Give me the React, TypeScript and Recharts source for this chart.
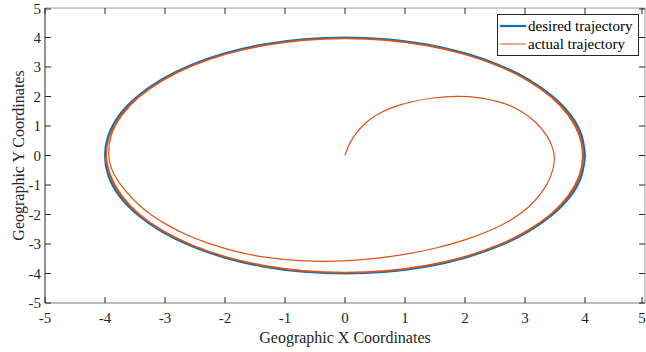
import React from 'react';
import { LineChart, Line, XAxis, YAxis, Legend, ReferenceLine } from 'recharts';

// axis ticks (both axes run -5..5)
const xTicks = [-5, -4, -3, -2, -1, 0, 1, 2, 3, 4, 5];
const yTicks = [-5, -4, -3, -2, -1, 0, 1, 2, 3, 4, 5];

// desired trajectory: the reference circle, read every 10 degrees
const desiredPath: [number, number][] = [
  [4, 0], [3.94, 0.69], [3.76, 1.37], [3.46, 2], [3.06, 2.57], [2.57, 3.06], [2, 3.46], [1.37, 3.76], [0.69, 3.94],
  [0, 4], [-0.69, 3.94], [-1.37, 3.76], [-2, 3.46], [-2.57, 3.06], [-3.06, 2.57], [-3.46, 2], [-3.76, 1.37], [-3.94, 0.69],
  [-4, 0], [-3.94, -0.69], [-3.76, -1.37], [-3.46, -2], [-3.06, -2.57], [-2.57, -3.06], [-2, -3.46], [-1.37, -3.76], [-0.69, -3.94],
  [0, -4], [0.69, -3.94], [1.37, -3.76], [2, -3.46], [2.57, -3.06], [3.06, -2.57], [3.46, -2], [3.76, -1.37], [3.94, -0.69],
  [4, 0],
];

// actual trajectory: spiral out of the origin ...
const actualSpiral: [number, number][] = [
  [0, 0], [0.05, 0.3], [0.11, 0.53], [0.19, 0.77], [0.3, 1.03], [0.44, 1.27], [0.6, 1.47], [0.82, 1.66], [1.1, 1.83],
  [1.47, 1.96], [1.86, 2.02], [2.25, 1.97], [2.6, 1.82], [2.92, 1.55], [3.19, 1.14], [3.38, 0.66], [3.48, 0.2],
  [3.5, -0.2], [3.44, -0.72], [3.29, -1.25], [3.08, -1.74], [2.8, -2.16], [2.46, -2.52], [2.02, -2.86], [1.52, -3.15],
  [1.0, -3.36], [0.42, -3.52], [-0.15, -3.6], [-0.75, -3.58], [-1.35, -3.46], [-1.85, -3.25], [-2.28, -2.98],
  [-2.64, -2.7], [-2.95, -2.38], [-3.22, -2.04], [-3.45, -1.66], [-3.65, -1.24], [-3.81, -0.8], [-3.91, -0.4], [-3.95, 0],
];

// ... then two laps that settle onto the circle
const actualLap1: [number, number][] = [
  [-3.92, 0.69], [-3.74, 1.36], [-3.45, 1.99], [-3.05, 2.56], [-2.56, 3.05], [-1.99, 3.45], [-1.36, 3.74], [-0.69, 3.92],
  [0, 3.98], [0.69, 3.92], [1.36, 3.74], [1.99, 3.45], [2.56, 3.05], [3.05, 2.56], [3.45, 1.99], [3.74, 1.36], [3.92, 0.69],
  [3.98, 0], [3.92, -0.69], [3.74, -1.36], [3.45, -1.99], [3.05, -2.56], [2.56, -3.05], [1.99, -3.45], [1.36, -3.74], [0.69, -3.92],
  [0, -3.98], [-0.69, -3.92], [-1.36, -3.74], [-1.99, -3.45], [-2.56, -3.05], [-3.05, -2.56], [-3.45, -1.99], [-3.74, -1.36], [-3.92, -0.69],
  [-4, 0],
];

const actualLap2: [number, number][] = [
  [-3.94, 0.69], [-3.76, 1.37], [-3.46, 2], [-3.06, 2.57], [-2.57, 3.06], [-2, 3.46], [-1.37, 3.76], [-0.69, 3.94],
  [0, 4], [0.69, 3.94], [1.37, 3.76], [2, 3.46], [2.57, 3.06], [3.06, 2.57], [3.46, 2], [3.76, 1.37], [3.94, 0.69],
  [4, 0], [3.94, -0.69], [3.76, -1.37], [3.46, -2], [3.06, -2.57], [2.57, -3.06], [2, -3.46], [1.37, -3.76], [0.69, -3.94],
  [0, -4], [-0.69, -3.94], [-1.37, -3.76], [-2, -3.46], [-2.57, -3.06], [-3.06, -2.57], [-3.46, -2], [-3.76, -1.37], [-3.94, -0.69],
  [-4, 0],
];

const BLUE = '#0072BD';
const ORANGE = '#D95319';
const TEXT = '#262626';
const FONT = '"Liberation Serif", "Times New Roman", serif';

// plot frame in pixels (chart margins + axis sizes below put it here)
const FRAME = { left: 45, top: 8, right: 645, bottom: 303 };
const TICK_LEN = 6;

const toRows = (pts: [number, number][]) => pts.map(([x, y]) => ({ x, y }));
const desiredData = toRows(desiredPath);
const actualData = toRows([...actualSpiral, ...actualLap1, ...actualLap2]);

const labelStyle = { fontFamily: FONT, fontSize: 15, fill: TEXT };

const XTick = (props: any) => {
  const { x, payload } = props;
  return (
    <g>
      <line x1={x} x2={x} y1={FRAME.bottom} y2={FRAME.bottom - TICK_LEN} stroke={TEXT} />
      <line x1={x} x2={x} y1={FRAME.top} y2={FRAME.top + TICK_LEN} stroke={TEXT} />
      <text x={x} y={FRAME.bottom + 15} dy="0.355em" textAnchor="middle" style={labelStyle}>
        {payload.value}
      </text>
    </g>
  );
};

const YTick = (props: any) => {
  const { y, payload } = props;
  return (
    <g>
      <line x1={FRAME.left} x2={FRAME.left + TICK_LEN} y1={y} y2={y} stroke={TEXT} />
      <line x1={FRAME.right} x2={FRAME.right - TICK_LEN} y1={y} y2={y} stroke={TEXT} />
      <text x={FRAME.left - 4} y={y} dy="0.355em" textAnchor="end" style={labelStyle}>
        {payload.value}
      </text>
    </g>
  );
};

const legendItems = [
  { label: 'desired trajectory', color: BLUE, width: 2.2 },
  { label: 'actual trajectory', color: ORANGE, width: 1 },
];

const LegendBox = () => (
  <div
    style={{
      background: '#fff',
      border: '1px solid #262626',
      padding: '2px 5px 2px 1px',
      fontFamily: FONT,
      fontSize: 15,
      color: '#000',
      lineHeight: '18px',
      whiteSpace: 'nowrap',
    }}
  >
    {legendItems.map((item) => (
      <div key={item.label} style={{ display: 'flex', alignItems: 'center' }}>
        <svg width={28} height={18}>
          <line x1={1} x2={27} y1={9} y2={9} stroke={item.color} strokeWidth={item.width} />
        </svg>
        <span style={{ marginLeft: 1 }}>{item.label}</span>
      </div>
    ))}
  </div>
);

export default function App() {
  return (
    <div style={{ position: 'absolute', left: 0, top: 0, background: '#fff' }}>
      <LineChart width={646} height={352} margin={{ top: 8, right: 1, bottom: 0, left: 0 }}>
        <XAxis
          dataKey="x"
          type="number"
          domain={[-5, 5]}
          ticks={xTicks}
          allowDataOverflow
          height={49}
          tickLine={false}
          axisLine={{ stroke: '#7a7a7a' }}
          tick={<XTick />}
          label={{
            value: 'Geographic X Coordinates',
            position: 'center',
            dy: 10,
            style: { fontFamily: FONT, fontSize: 16, fill: TEXT },
          }}
        />
        <YAxis
          dataKey="y"
          type="number"
          domain={[-5, 5]}
          ticks={yTicks}
          allowDataOverflow
          width={45}
          tickLine={false}
          axisLine={{ stroke: TEXT }}
          tick={<YTick />}
          label={{
            value: 'Geographic Y Coordinates',
            angle: -90,
            position: 'center',
            dx: -4,
            style: { fontFamily: FONT, fontSize: 16, fill: TEXT, textAnchor: 'middle' },
          }}
        />
        <ReferenceLine y={5} stroke="#9a9a9a" />
        <ReferenceLine x={5} stroke="#9a9a9a" />
        <Line
          data={desiredData}
          dataKey="y"
          type="natural"
          stroke={BLUE}
          strokeWidth={2.2}
          dot={false}
          activeDot={false}
          isAnimationActive={false}
          name="desired trajectory"
        />
        <Line
          data={actualData}
          dataKey="y"
          type="basis"
          stroke={ORANGE}
          strokeWidth={1.2}
          dot={false}
          activeDot={false}
          isAnimationActive={false}
          name="actual trajectory"
        />
        <Legend
          content={<LegendBox />}
          layout="horizontal"
          verticalAlign="middle"
          align="center"
          wrapperStyle={{ position: 'absolute', left: 497, top: 14, width: 'auto', right: 'auto', bottom: 'auto' }}
        />
      </LineChart>
    </div>
  );
}
